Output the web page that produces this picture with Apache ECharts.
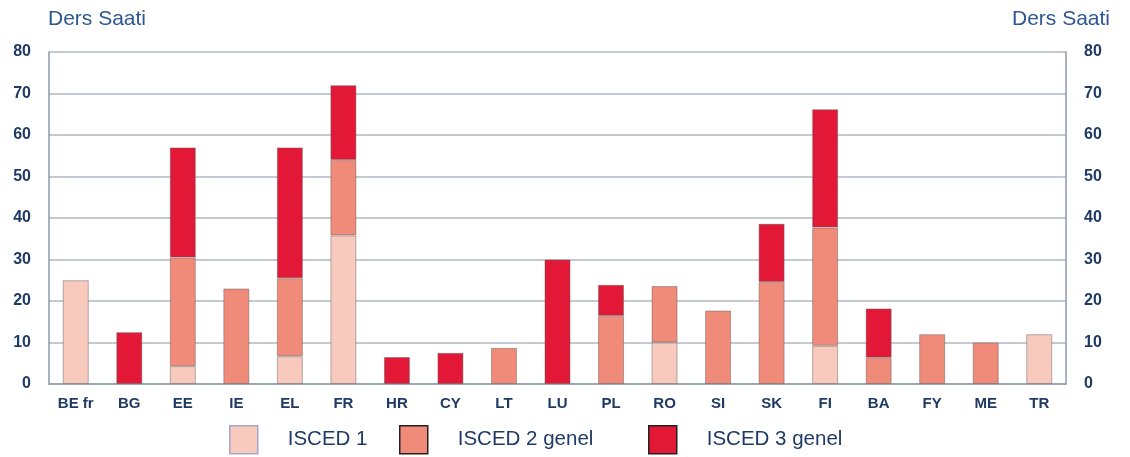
<!DOCTYPE html>
<html>
<head>
<meta charset="utf-8">
<script src="https://cdn.jsdelivr.net/npm/echarts@6/dist/echarts.min.js"></script>
<style>
  html, body { margin: 0; padding: 0; background: #fff; }
  #chart { width: 1130px; height: 457px; }
</style>
</head>
<body>
<div id="chart"></div>
<script>
// ülke kodları
const countries = ['BE fr', 'BG', 'EE', 'IE', 'EL', 'FR', 'HR', 'CY', 'LT', 'LU',
  'PL', 'RO', 'SI', 'SK', 'FI', 'BA', 'FY', 'ME', 'TR']

// ders saatleri (seviye başına)
const isced1 = [25, 0, 4.3, 0, 6.7, 35.8, 0, 0, 0, 0, 0, 10, 0, 0, 9.2, 0, 0, 0, 12]
const isced2 = [0, 0, 26.2, 23, 18.8, 18.2, 0, 0, 8.7, 0, 16.4, 13.6, 17.7, 24.6, 28.5, 6.3, 12, 10, 0]
const isced3 = [0, 12.5, 26.5, 0, 31.5, 18, 6.5, 7.5, 0, 30, 7.5, 0, 0, 14, 28.5, 11.9, 0, 0, 0]

const yTicks = [0, 10, 20, 30, 40, 50, 60, 70, 80]

const navy = '#1f3a64'
const font = 'Liberation Sans, Arial, sans-serif'
const barBorder = 'rgba(90, 90, 90, 0.45)'

const chart = echarts.init(document.getElementById('chart'))

// sıfır değerleri çizilmesin
const clean = (arr) => arr.map((v) => (v > 0 ? v : '-'))

function makeAxis(position) {
  return {
    type: 'value',
    position,
    min: yTicks[0],
    max: yTicks[yTicks.length - 1],
    interval: 10,
    axisLine: { show: true, lineStyle: { color: '#8e9aab', width: 1.5 } },
    axisTick: { show: false },
    splitLine: { show: position === 'left', lineStyle: { color: '#b0b9c5', width: 1.5 } },
    axisLabel: {
      color: navy,
      fontFamily: font,
      fontWeight: 'bold',
      fontSize: 16,
      margin: 18,
    },
  }
}

function legendAt(name, left, border) {
  return {
    data: [name],
    left,
    top: 425,
    padding: 0,
    itemWidth: 28,
    itemHeight: 28,
    icon: 'rect',
    itemStyle: { borderColor: border, borderWidth: 1.5 },
    textStyle: {
      color: navy,
      fontFamily: font,
      fontSize: 20.5,
      padding: [0, 0, 0, 25],
    },
  }
}

const titleStyle = { color: '#2c5791', fontFamily: font, fontSize: 21, fontWeight: 'normal' }

chart.setOption({
  animation: false,
  title: [
    { text: 'Ders Saati', left: 48, top: 9, padding: 0, textStyle: titleStyle },
    { text: 'Ders Saati', left: 1012, top: 9, padding: 0, textStyle: titleStyle },
  ],
  legend: [
    legendAt('ISCED 1', 229, '#a4a6cc'),
    legendAt('ISCED 2 genel', 399, '#222222'),
    legendAt('ISCED 3 genel', 648, '#222222'),
  ],
  grid: { left: 49, right: 64, top: 52, bottom: 73 },
  xAxis: {
    type: 'category',
    data: countries,
    axisLine: { lineStyle: { color: '#8e9aab', width: 1.5 } },
    axisTick: { show: false },
    axisLabel: { color: navy, fontFamily: font, fontWeight: 'bold', fontSize: 15, margin: 12, interval: 0 },
  },
  yAxis: [makeAxis('left'), makeAxis('right')],
  series: [
    {
      name: 'ISCED 1',
      type: 'bar',
      stack: 'saat',
      barWidth: 26,
      data: clean(isced1),
      itemStyle: { color: '#f8c9bd', borderColor: barBorder, borderWidth: 1 },
    },
    {
      name: 'ISCED 2 genel',
      type: 'bar',
      stack: 'saat',
      barWidth: 26,
      data: clean(isced2),
      itemStyle: { color: '#f08b79', borderColor: barBorder, borderWidth: 1 },
    },
    {
      name: 'ISCED 3 genel',
      type: 'bar',
      stack: 'saat',
      barWidth: 26,
      data: clean(isced3),
      itemStyle: { color: '#e31837', borderColor: barBorder, borderWidth: 1 },
    },
  ],
})
</script>
</body>
</html>
